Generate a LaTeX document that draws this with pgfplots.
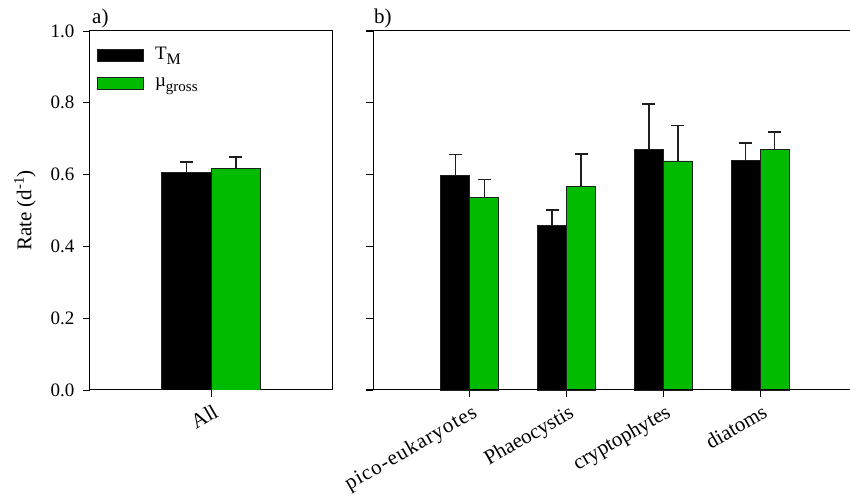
\documentclass[border=0pt]{standalone}
\usepackage{pgfplots}
\pgfplotsset{compat=1.18}
\usepackage{fontspec}
\setmainfont{Liberation Serif}
\definecolor{barG}{RGB}{0,187,0}
\definecolor{edge}{RGB}{30,30,30}
\newcommand{\bigf}{\fontsize{21}{25}\selectfont}
\pgfplotsset{
  mylegend/.style={legend image code/.code={\draw[##1, line width=0.8pt] (0pt,-6pt) rectangle (46pt,6pt);}},
  common/.style={
    scale only axis,
    ymin=0, ymax=1,
    ytick={0,0.2,0.4,0.6,0.8,1.0},
    tick align=outside,
    ytick pos=left, xtick pos=bottom,
    major tick length=7pt,
    tick style={line width=0.8pt, black},
    axis line style={line width=1pt},
    ybar,
    font=\bigf,
    tick label style={font=\bigf},
    /pgf/number format/assume math mode=true,
    y tick label style={font=\fontsize{19}{22}\selectfont, xshift=-5pt, /pgf/number format/.cd, fixed, fixed zerofill, precision=1},
    xticklabel style={rotate=30, anchor=north east, inner sep=2pt, yshift=-4pt},
    error bars/y dir=plus, error bars/y explicit,
    error bars/error bar style={line width=1.5pt, edge},
    error bars/error mark options={rotate=90, mark size=6.5pt, line width=1.5pt, edge},
  }
}

\begin{document}
\begin{tikzpicture}
\useasboundingbox (0pt,0pt) rectangle (850pt,500pt);
% Panel a
\begin{axis}[common, at={(90pt,110pt)}, anchor=south west, width=242pt, height=359pt,
  xmin=-1, xmax=1, xtick={0}, xticklabels={All}, bar width=49.5pt,
  ylabel={Rate (d\textsuperscript{-1})}, ylabel shift=8pt,
  legend style={at={(axis description cs:0,1)}, anchor=north west, xshift=7pt, yshift=-14pt,
    draw=none, fill=none, inner sep=0pt, row sep=11pt, font=\fontsize{19}{22}\selectfont,
    nodes={inner sep=2pt, text depth=3pt},
    /tikz/every odd column/.append style={column sep=9pt}},
  legend cell align=left]
\addplot[fill=black, draw=edge, line width=0.8pt, bar shift=-24.75pt, mylegend]
  coordinates {(0,0.606) +- (0,0.029)};
\addlegendentry{T{\fontsize{16}{18}\selectfont\raisebox{-5pt}{M}}}
\addplot[fill=barG, draw=edge, line width=0.8pt, bar shift=24.75pt, mylegend]
  coordinates {(0,0.616) +- (0,0.033)};
\addlegendentry{µ{\fontsize{15}{18}\selectfont\raisebox{-5pt}{gross}}}
\end{axis}
% Panel b
\begin{axis}[common, at={(373pt,110pt)}, anchor=south west, width=477pt, height=359pt,
  xmin=-1, xmax=3.93, xtick={0,1,2,3},
  xticklabels={{\addfontfeatures{LetterSpace=5}pico-eukaryotes}, Phaeocystis, cryptophytes, diatoms},
  yticklabels={}, bar width=29pt, axis line style={draw=none}]
\addplot[fill=black, draw=edge, line width=0.8pt, bar shift=-14.5pt]
  coordinates {(0,0.598) +- (0,0.058) (1,0.458) +- (0,0.043) (2,0.670) +- (0,0.127) (3,0.639) +- (0,0.049)};
\addplot[fill=barG, draw=edge, line width=0.8pt, bar shift=14.5pt]
  coordinates {(0,0.537) +- (0,0.050) (1,0.566) +- (0,0.092) (2,0.638) +- (0,0.099) (3,0.670) +- (0,0.049)};
\end{axis}
\draw[line width=1pt] (366pt,469pt) -- (850pt,469pt);
\draw[line width=1pt] (366pt,110pt) -- (850pt,110pt);
\draw[line width=1pt] (373pt,110pt) -- (373pt,469pt);
\node[anchor=base west, inner sep=0pt, font=\bigf] at (92pt,476pt) {a)};
\node[anchor=base west, inner sep=0pt, font=\bigf] at (374pt,476pt) {b)};
\end{tikzpicture}
\end{document}
